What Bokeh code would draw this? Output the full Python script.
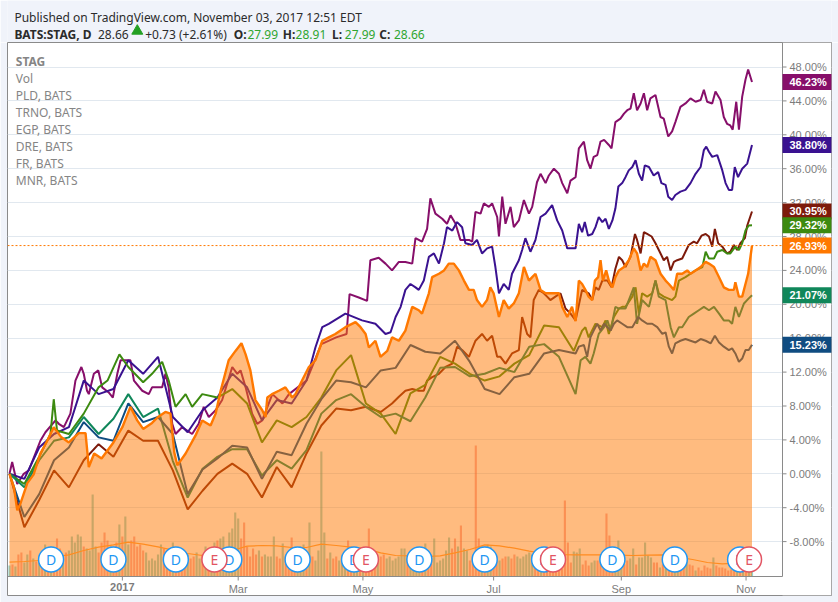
from bokeh.plotting import figure
from bokeh.models import Range1d, FixedTicker, PrintfTickFormatter, Span, Label
from bokeh.layouts import column
from bokeh.embed import file_html
from bokeh.resources import INLINE
from bokeh.core.properties import value

# ---------------- data: (bar index since 2016-11-07, % change) ----------------
stag_pts = [(0, 0), (1.5, -1.6), (2.6, -4.3), (3.7, -3.5), (6, -1.1), (8.1, -0.1), (10.4, 2.4),
            (12.7, 3.9), (14.9, 5.5), (17.5, 4.3), (20, 3.7), (23.3, 4.8), (25.6, 4.8), (26.7, 0.8),
            (28.5, 2.4), (31, 1.8), (35, 3.7), (38, 5.5), (40.7, 7.9), (43, 6.3), (45, 5.3), (48, 6.0),
            (50, 6.7), (52.5, 7.3), (54.2, 7.1), (55.5, 2.5), (56.5, 1.0), (59.3, 2.4), (62.6, 4.5),
            (64.9, 6.3), (67.7, 5.7), (69.4, 7.1), (71.1, 9.8), (73.8, 13.4), (76.1, 14.5),
            (78.1, 15.4), (79.5, 14.1), (81.1, 12.2), (82.8, 8.7), (85.1, 7.5), (86.2, 6.7),
            (86.8, 9.0), (88.4, 9.4), (90.7, 9.8), (92.9, 10.2), (95.2, 9.0), (96.3, 9.4),
            (98.5, 11.0), (100.8, 12.6), (103.0, 13.4), (105.3, 15.7), (107.5, 16.1), (109.7, 16.5),
            (113.1, 17.3), (116.5, 17.9), (118.2, 17.3), (119.9, 16.5), (121.0, 14.9), (123.2, 15.7),
            (124.9, 13.8), (127.2, 14.5), (128.8, 16.1), (131.1, 15.7), (133.3, 16.9), (135.6, 19.7),
            (137.8, 19.3), (138.9, 18.9), (141.2, 21.3), (142.3, 23.2), (144.6, 23.6), (146.3, 24.0),
            (147.9, 24.8), (149.6, 24.8), (151.3, 24.0), (153.0, 22.8), (154.7, 21.7), (156.3, 21.7),
            (157.4, 20.5), (159.1, 19.7), (160.8, 20.5), (161.9, 22.0), (163.0, 21.3), (164.8, 18.5),
            (166.4, 20.5), (168.1, 19.5), (169.8, 20.1), (171.5, 21.3), (173.2, 24.4), (174.9, 22.8),
            (176.0, 23.2), (177.1, 23.6), (178.8, 21.7), (180.5, 21.3), (182.7, 21.3), (185.0, 21.3),
            (186.1, 19.7), (187.8, 18.5), (189.4, 19.7), (190.6, 18.0), (191.7, 22.8), (192.8, 22.4),
            (193.9, 21.7), (195.0, 20.9), (196.2, 20.5), (197.1, 22.8), (198.2, 23.2), (199.0, 25.2),
            (199.8, 22.8), (200.9, 24.0), (201.8, 22.8), (203.0, 22.0), (204.0, 23.2), (205.2, 24.0),
            (206.9, 24.4), (208.5, 25.2), (210.2, 26.6), (211.3, 26.0), (212.5, 24.0), (213.6, 24.8),
            (214.7, 24.4), (215.8, 25.6), (217.5, 25.2), (219.2, 23.6), (220.9, 22.8), (222.0, 22.4),
            (223.7, 21.7), (224.8, 23.6), (226.5, 23.6), (228.2, 24.0), (229.3, 23.6), (231.0, 24.0),
            (232.7, 24.4), (234.4, 25.0), (235.5, 24.8), (237.2, 24.4), (238.9, 23.2), (240.5, 22.0),
            (242.2, 21.7), (243.9, 21.7), (244.4, 22.6), (245.6, 20.9), (246.7, 20.9), (247.8, 22.4),
            (248.7, 23.6), (250, 26.93)]

pld_pts = [(0, 0), (0.9, 1.4), (2.6, -1.2), (4.8, 0), (6.5, 0.4), (10.4, 3.9), (12.1, 4.9),
           (15.5, 6.3), (16.6, 5.9), (18.3, 5.5), (20.5, 7.1), (22.2, 11.0), (24.2, 12.6), (25.0, 11.8),
           (26.1, 9.8), (26.7, 9.4), (28.4, 11.8), (29.9, 12.2), (31.2, 10.2), (33.4, 9.6), (34.8, 9.0),
           (36.3, 11.8), (37.4, 13.4), (40.7, 13.4), (41.9, 11.0), (44.7, 9.8), (46.9, 9.4), (48.0, 10.2),
           (51.4, 10.2), (52.5, 11.8), (53.6, 10.2), (54.8, 5.9), (55.9, 4.7), (58.1, 5.5), (61.5, 4.7),
           (63.7, 5.9), (65.4, 7.9), (67.1, 6.7), (69.4, 7.5), (71.6, 8.7), (75.0, 12.6), (76.7, 11.8),
           (77.8, 12.2), (79.5, 10.2), (81.7, 7.1), (83.4, 5.9), (85.1, 6.3), (88.5, 9.4), (91.9, 8.3),
           (94.1, 9.4), (100, 11.0), (105, 15.3), (110, 16.1), (113.5, 16.5), (114.5, 21.2),
           (117.6, 20.8), (120.4, 20.4), (121.5, 25.2), (124.3, 25.5), (126.6, 24.8), (128.8, 24.0),
           (131.1, 25.0), (133.3, 25.0), (135.6, 24.8), (136.7, 27.8), (138.9, 27.4), (140.6, 28.9),
           (141.7, 32.5), (143.4, 30.7), (145.7, 30.1), (147.3, 29.5), (148.5, 30.5), (150.2, 29.5),
           (151.8, 27.6), (154.7, 27.6), (155.8, 27.4), (156.9, 30.9), (158.6, 30.7), (159.7, 31.9),
           (161.4, 31.5), (162.5, 31.9), (164.2, 30.3), (164.8, 28.0), (165.9, 32.7), (167.0, 29.5),
           (168.7, 31.5), (169.8, 29.1), (171.5, 29.9), (173.2, 32.3), (174.9, 30.7), (176.0, 31.5),
           (177.6, 34.4), (178.8, 35.4), (180.5, 34.3), (181.6, 35.2), (183.3, 36.0), (185.0, 35.4),
           (186.1, 34.3), (187.8, 33.1), (188.9, 34.6), (190.6, 35.0), (191.7, 38.4), (193.4, 39.2),
           (194.5, 37.0), (195.6, 36.0), (196.7, 37.4), (197.9, 37.6), (199.0, 39.2), (200.2, 39.4),
           (201.8, 38.8), (202.7, 38.4), (204.0, 41.5), (205.7, 41.9), (206.9, 42.5), (208.0, 42.9),
           (209.1, 43.1), (210.2, 44.9), (211.3, 42.9), (212.5, 43.7), (213.6, 44.9), (214.7, 42.9),
           (215.8, 44.3), (217.5, 44.7), (219.2, 42.1), (220.3, 41.9), (221.8, 39.8), (223.1, 40.4),
           (224.2, 41.5), (225.9, 43.3), (227.6, 43.7), (229.3, 44.3), (231.0, 43.9), (232.7, 44.1),
           (233.8, 45.3), (234.9, 43.9), (236.6, 43.7), (237.7, 45.1), (239.4, 44.1), (240.5, 42.1),
           (241.6, 41.3), (242.7, 41.1), (243.5, 40.6), (244.7, 43.9), (245.6, 40.6), (246.7, 44.5),
           (247.8, 46.5), (248.7, 47.7), (250, 46.23)]

trno_pts = [(0, 0), (5, -0.6), (10, 3.1), (15, 4.7), (20, 5.5), (25, 11.0), (30, 9.4), (35, 10.0),
            (40, 13.4), (45, 11.8), (50, 13.8), (55, 6.7), (60, 4.9), (65, 7.5), (70, 9.0), (75, 11.8),
            (80, 10.2), (85, 6.3), (90, 8.7), (95, 8.3), (100, 11.0), (103, 14.9), (105.3, 17.3),
            (107.5, 17.7), (113.1, 18.9), (118.7, 18.1), (123.2, 17.7), (126.6, 16.5), (128.3, 16.7),
            (130.0, 18.5), (131.7, 19.7), (133.3, 21.7), (135.0, 22.4), (136.7, 22.0), (137.8, 21.7),
            (139.5, 22.8), (141.2, 25.6), (142.9, 26.0), (144.6, 24.8), (146.3, 27.2), (147.3, 29.1),
            (149.1, 28.7), (150.7, 29.7), (152.4, 29.1), (153.5, 27.2), (155.8, 27.0), (157.4, 27.6),
            (159.1, 26.0), (160.8, 26.6), (162.5, 26.8), (163.6, 24.4), (164.8, 21.3), (166.4, 22.4),
            (168.1, 21.7), (169.2, 23.6), (171.5, 25.2), (172.6, 26.4), (173.7, 27.8), (175.4, 26.2),
            (177.1, 27.6), (178.8, 30.3), (180.5, 30.7), (182.7, 31.7), (184.4, 29.9), (186.1, 28.7),
            (187.8, 26.6), (189.4, 26.6), (190.6, 26.6), (191.7, 29.5), (192.8, 28.5), (193.7, 29.7),
            (194.8, 28.1), (196.2, 28.3), (197.3, 29.1), (198.4, 30.3), (199.6, 29.7), (200.7, 30.1),
            (201.8, 28.9), (203.0, 29.9), (204.0, 31.3), (205.0, 33.9), (206.3, 34.3), (207.4, 35.0),
            (208.5, 35.8), (209.7, 36.2), (210.8, 37.0), (211.9, 35.4), (213.0, 34.6), (213.9, 36.4),
            (215.3, 36.2), (216.9, 35.2), (218.4, 35.6), (219.5, 34.3), (220.9, 34.1), (221.8, 32.7),
            (223.1, 32.3), (224.2, 32.9), (225.9, 33.3), (227.6, 33.5), (229.3, 34.3), (231.0, 35.4),
            (232.7, 36.2), (233.8, 38.2), (234.6, 38.6), (235.5, 38.0), (236.6, 37.4), (238.3, 37.6),
            (240.0, 35.8), (241.1, 34.3), (242.2, 33.5), (243.3, 33.5), (244.2, 36.2), (245.3, 35.0),
            (246.7, 36.0), (248.4, 36.6), (250, 38.80)]

egp_pts = [(0, 0), (5, -6.3), (10, -3.1), (15, 0.4), (20, -1.6), (25, 1.6), (30, 3.5), (35, 2.0),
           (40, 5.1), (45, 3.9), (50, 3.9), (55, 0.4), (60, -4.2), (65, -2.0), (70, 0.0), (75, 1.2),
           (80, 0.0), (85, -2.8), (90, 0.8), (95, -1.6), (100, 2.4), (105, 5.7), (110, 7.7), (115, 7.5),
           (120, 7.9), (125, 7.3), (128.8, 8.3), (131.1, 9.1), (133.3, 9.8), (135.6, 10.0),
           (137.8, 9.8), (139.5, 9.8), (140.6, 11.0), (142.3, 11.4), (144.6, 11.8), (146.8, 12.6),
           (149.1, 13.0), (150.7, 15.0), (152.4, 14.6), (154.7, 13.8), (156.9, 15.7), (159.1, 16.5),
           (160.8, 15.7), (162.5, 16.3), (164.2, 13.8), (165.3, 13.8), (167.0, 13.0), (169.2, 14.2),
           (171.5, 14.6), (172.6, 18.5), (174.3, 16.5), (175.4, 16.1), (176.5, 20.5), (178.2, 21.7),
           (179.9, 21.3), (181.0, 20.9), (182.1, 20.5), (183.8, 20.9), (185.5, 21.3), (187.2, 19.5),
           (188.9, 18.9), (190.6, 18.1), (192.8, 21.7), (195.0, 21.3), (196.2, 20.5), (197.3, 22.0),
           (198.4, 21.7), (199.6, 22.8), (201.3, 22.8), (202.7, 22.0), (204.0, 24.2), (205.2, 25.6),
           (206.3, 25.2), (207.4, 24.4), (209.1, 25.6), (210.6, 28.3), (211.3, 27.6), (212.5, 26.0),
           (213.6, 28.5), (214.7, 28.3), (216.2, 28.0), (217.5, 27.2), (219.2, 26.0), (220.3, 25.2),
           (221.4, 25.6), (222.6, 24.0), (223.7, 25.0), (224.8, 25.2), (226.5, 25.4), (227.6, 26.2),
           (228.7, 27.0), (230.4, 27.4), (231.5, 27.2), (233.0, 28.1), (234.4, 28.3), (235.5, 28.0),
           (236.6, 26.8), (237.5, 28.9), (238.6, 27.2), (240.0, 26.8), (241.6, 26.0), (242.7, 26.2),
           (243.9, 27.0), (245.0, 26.4), (246.1, 27.2), (247.6, 27.8), (248.4, 29.3), (250, 30.95)]

dre_pts = [(0, 0), (5, -1.2), (10, 2.0), (13.8, 4.7), (14.9, 8.8), (16, 5.1), (20, 4.7), (25, 7.1),
           (30, 10.2), (33, 11.0), (37, 14.1), (40, 12.6), (45, 10.8), (48, 11.8), (51.4, 13.2),
           (53.6, 11.0), (55.9, 7.9), (59.3, 9.4), (61.5, 7.9), (64.9, 9.4), (70, 9.0), (75, 10.0),
           (80, 8.3), (85, 3.7), (90, 6.3), (95, 5.5), (100, 6.7), (105, 9.0), (110, 12.2),
           (115, 14.0), (120, 8.3), (125, 7.1), (130, 4.7), (135, 9.5), (140, 10.5), (145, 13.8),
           (150, 13.0), (155, 11.8), (160, 11.0), (165, 11.5), (170, 13.0), (175, 14.0), (180, 17.5),
           (185, 17.3), (190, 14.5), (192.8, 16.9), (193.9, 17.3), (195.0, 16.1), (197.3, 17.7),
           (199.6, 17.3), (200.7, 18.1), (201.8, 16.5), (203.5, 18.5), (205.2, 19.5), (206.3, 19.7),
           (207.4, 19.7), (209.7, 20.9), (210.8, 22.0), (211.9, 18.9), (213.0, 21.3), (214.7, 20.9),
           (216.4, 21.3), (217.5, 22.8), (218.6, 21.3), (220.3, 20.9), (223.1, 20.5), (224.2, 20.9),
           (225.4, 22.8), (227.6, 23.2), (229.3, 23.6), (231.0, 24.0), (233.3, 24.4), (234.4, 26.2),
           (235.5, 25.4), (237.2, 25.4), (238.3, 26.2), (240.0, 26.4), (241.6, 26.0), (242.7, 26.0),
           (244.4, 26.8), (245.6, 26.4), (246.7, 27.2), (247.8, 28.7), (248.9, 29.3), (250, 29.32)]

fr_pts = [(0, 0), (5, -1.6), (10, 1.6), (15, 3.9), (20, 4.3), (25, 6.7), (30, 4.7), (35, 6.5),
          (40, 9.4), (45, 6.7), (50, 7.7), (55, 1.5), (60, -2.8), (65, 0.6), (70, 2.0), (75, 2.9),
          (80, 2.9), (85, -0.2), (90, 1.6), (95, 0.6), (100, 2.8), (105, 7.1), (110, 8.7), (115, 9.4),
          (120, 7.9), (125, 6.7), (130, 7.1), (135, 6.2), (140, 9.0), (145, 12.5), (150, 12.6),
          (155, 11.5), (160, 11.8), (165, 12.5), (170, 12.0), (175, 15.0), (180, 15.3), (185, 13.8),
          (190.6, 9.4), (192.3, 13.4), (193.9, 13.8), (195.6, 13.0), (196.7, 14.2), (198.4, 16.5),
          (200.2, 17.3), (201.3, 18.1), (202.4, 16.9), (204.0, 19.7), (205.2, 19.5), (207.4, 19.5),
          (210.2, 22.0), (211.3, 17.7), (213.0, 20.5), (215.3, 19.7), (217.5, 22.8), (218.6, 20.9),
          (220.9, 20.5), (222.6, 17.3), (223.7, 16.1), (225.4, 17.3), (226.5, 17.3), (228.7, 18.5),
          (230.4, 18.9), (232.1, 19.3), (233.8, 19.7), (235.5, 19.3), (237.2, 19.7), (238.9, 18.9),
          (240.5, 18.1), (242.2, 18.1), (243.3, 17.7), (244.4, 19.7), (245.6, 18.5), (247.3, 20.1),
          (248.9, 20.7), (250, 21.07)]

mnr_pts = [(0, 0), (5, -5.1), (10, -2.4), (15, 1.6), (20, 3.1), (25, 6.1), (30, 4.3), (35, 3.9),
           (40, 8.3), (45, 6.1), (50, 6.7), (55, 4.7), (60, -2.4), (65, 0.5), (70, 1.8), (75, 3.3),
           (80, 3.1), (85, -0.6), (90, 2.6), (95, 2.2), (100, 5.9), (105, 8.8), (110, 11.0),
           (115, 10.8), (120, 10.2), (125, 12.2), (130, 12.5), (135, 15.2), (140, 14.4), (145, 14.2),
           (150, 15.7), (155, 13.2), (160, 10.0), (165, 9.4), (170, 11.4), (175, 11.8), (180, 14.2),
           (185, 14.6), (190.6, 14.2), (191.7, 15.0), (193.4, 15.2), (194.5, 13.8), (195.6, 16.1),
           (196.7, 16.9), (197.9, 17.7), (199.0, 16.9), (200.2, 17.7), (201.3, 17.3), (202.4, 16.9),
           (203.5, 17.7), (204.6, 18.1), (206.3, 17.7), (208.0, 17.3), (209.7, 17.3), (211.7, 18.5),
           (213.0, 18.1), (214.7, 17.7), (216.4, 17.7), (218.1, 17.3), (219.8, 16.5), (220.9, 16.7),
           (222.0, 15.0), (223.1, 14.2), (224.2, 15.4), (225.9, 15.7), (227.6, 15.9), (229.3, 15.7),
           (231.0, 15.5), (232.7, 15.9), (234.4, 15.7), (236.1, 15.4), (237.5, 16.3), (238.9, 15.5),
           (240.5, 15.0), (242.2, 14.6), (243.3, 14.8), (244.4, 14.2), (245.6, 13.2), (246.7, 13.6),
           (247.8, 14.6), (248.9, 14.6), (250, 15.23)]

# STAG daily volume (units of ~25k shares), one per bar, and up/down flag
volume = [11, 12, 10, 22, 24, 14, 22, 26, 18, 15,
          20, 12, 32, 26, 30, 22, 38, 28, 20, 24,
          26, 40, 34, 42, 40, 30, 28, 26, 82, 30,
          24, 34, 44, 36, 30, 22, 34, 52, 40, 60,
          32, 36, 40, 30, 32, 26, 24, 16, 18, 16,
          22, 32, 28, 26, 22, 34, 24, 28, 20, 16,
          22, 18, 20, 24, 18, 22, 30, 26, 22, 34,
          36, 38, 40, 26, 44, 48, 64, 58, 38, 54,
          30, 20, 28, 22, 26, 20, 22, 20, 20, 40,
          20, 18, 33, 20, 22, 39, 26, 28, 30, 32,
          22, 54, 20, 16, 26, 125, 44, 18, 24, 18,
          20, 16, 18, 20, 36, 22, 18, 20, 16, 26,
          18, 48, 20, 18, 16, 20, 22, 18, 20, 16,
          18, 20, 28, 28, 18, 16, 14, 18, 16, 20,
          33, 16, 18, 38, 14, 16, 18, 26, 39, 28,
          38, 30, 51, 28, 26, 16, 20, 131, 38, 30,
          30, 32, 30, 18, 20, 16, 18, 20, 20, 18,
          22, 20, 18, 20, 22, 24, 22, 14, 12, 14,
          16, 18, 14, 16, 14, 12, 8, 76, 34, 14,
          25, 24, 28, 12, 16, 11, 14, 16, 16, 14,
          12, 63, 41, 18, 21, 36, 11, 12, 16, 18,
          28, 12, 19, 19, 34, 21, 19, 14, 14, 9,
          12, 10, 11, 12, 14, 13, 11, 11, 20, 12,
          11, 6, 9, 6, 11, 9, 8, 19, 11, 9,
          9, 8, 6, 7, 6, 8, 7, 8, 7, 9, 10]
direction = "".join([
    "ududduudud", "udududddud", "uuuuuduuuu", "dddduddudu", "uddddduuuu",
    "uudddudddd", "udduududuu", "duuuuuuudd", "dddduduuuu", "ddudddduuu",
    "duduuuudud", "duuudduudu", "ddddudduuu", "uuuuduuuud", "udduuuuuud",
    "duduuddddu", "duudduddud", "duuuuuuddu", "dddddddddd", "uuuddduudd",
    "dddduuuddu", "uduuuuuddu", "dudduuddud", "dudddddudd", "dddddududuu"])
ma_idx = list(range(0, 250, 5)) + [248, 250]
vol_ma = [14.3, 15, 16, 19.3, 21.6, 26, 29.3, 31.6, 34.3, 32.3, 29.6, 26.3, 23, 21, 21.6, 26,
          30.3, 31, 30.6, 29, 29, 32.3, 31, 29.3, 27.6, 23.6, 21, 20.6, 20, 20.6, 23.6, 27,
          31.6, 30.6, 28.3, 25.3, 23, 22, 21.6, 21.6, 21.6, 21.3, 21, 21.3, 21.6, 19.3, 17,
          14, 12.6, 13.3, 13.3, 13.3]

dividend_idx = [14, 35, 56, 74, 97, 116, 138, 160, 180, 203, 224, 246]
earnings_idx = [69, 120, 183, 249]

tick_idx = [38, 77, 119, 163, 206, 248]
tick_labels = ["2017", "Mar", "May", "Jul", "Sep", "Nov"]
y_ticks = list(range(-8, 49, 4))

names = ["STAG", "Vol", "PLD, BATS", "TRNO, BATS", "EGP, BATS", "DRE, BATS", "FR, BATS", "MNR, BATS"]
peers = [("PLD", pld_pts, "#870f6a"), ("TRNO", trno_pts, "#3a1290"), ("EGP", egp_pts, "#7d1a0b"),
         ("DRE", dre_pts, "#3c8a10"), ("FR", fr_pts, "#10875a"), ("MNR", mnr_pts, "#0f4c81")]
STAG_COLOR = "#ff7800"

# ---------------- layout constants (page pixels) ----------------
BG = "#f0f3fa"
PAGE_W, PAGE_H = 838, 602
HEADER_H = 42
MAIN_H = PAGE_H - HEADER_H
BOX_L, BOX_R, BOX_T, BOX_B = 7, 831, 42, 595      # whole chart box (frame)
PLOT_R, PLOT_B = 782, 576                          # price pane edges
PX_PER_BAR = 2.97
BAR0_PX = 9
ZERO_PX = 473.3
PX_PER_PCT = 8.475

X0 = -(BAR0_PX - BOX_L) / PX_PER_BAR
X1 = X0 + (BOX_R - BOX_L) / PX_PER_BAR
Y1 = (ZERO_PX - BOX_T) / PX_PER_PCT
Y0 = (ZERO_PX - BOX_B) / PX_PER_PCT

def px2x(px):
    return X0 + (px - BOX_L) / PX_PER_BAR

def px2y(py):
    return Y1 - (py - BOX_T) / PX_PER_PCT

AREA_BOTTOM = px2y(PLOT_B)
AXIS_FONT = "Liberation Sans"
TEXT_FONT = "Noto Sans"
AXIS_GREY = "#8a8a8a"
LABEL_GREY = "#7c7c7c"

def split(pts):
    return [a for a, _ in pts], [b for _, b in pts]

# ---------------- header ----------------
h = figure(width=PAGE_W, height=HEADER_H, x_range=Range1d(0, PAGE_W), y_range=Range1d(0, HEADER_H),
           x_axis_type=None, y_axis_type=None, min_border=0, toolbar_location=None,
           output_backend="svg", background_fill_color=BG, border_fill_color=BG,
           outline_line_color=None)
h.grid.visible = False
DARK = "#2b2b2b"
GREEN = "#2fa52f"
h.text(x=[7], y=[HEADER_H - 17], text=["Published on TradingView.com, November 03, 2017 12:51 EDT"],
       text_font=value(TEXT_FONT), text_font_size="12px", text_color=DARK,
       text_baseline="alphabetic")
pieces = [(7, "BATS:STAG, D", DARK, "bold"), (92, "28.66", DARK, "normal"),
          (140, "+0.73 (+2.61%)", DARK, "normal"),
          (230, "O:", DARK, "bold"), (244, "27.99", GREEN, "normal"),
          (280, "H:", DARK, "bold"), (293, "28.91", GREEN, "normal"),
          (330, "L:", DARK, "bold"), (343, "27.99", GREEN, "normal"),
          (378, "C:", DARK, "bold"), (393, "28.66", GREEN, "normal")]
for px, txt, col, style in pieces:
    h.text(x=[px], y=[HEADER_H - 34.3], text=[txt], text_font=value(TEXT_FONT),
           text_font_size="12px", text_color=col, text_font_style=style,
           text_baseline="alphabetic")
h.scatter(x=[132], y=[HEADER_H - 30.5], marker="triangle", size=11, fill_color="#23a023",
          line_color="#23a023")

# ---------------- main chart ----------------
p_main = figure(width=PAGE_W, height=MAIN_H, x_range=Range1d(X0, X1), y_range=Range1d(Y0, Y1),
                y_axis_location="right", toolbar_location=None, output_backend="svg",
                min_border_left=BOX_L, min_border_top=0, min_border_right=PAGE_W - BOX_R,
                min_border_bottom=PAGE_H - BOX_B, background_fill_color="white",
                border_fill_color=BG, outline_line_color=AXIS_GREY)
p_main.extra_y_ranges = {"vol": Range1d(-(BOX_B - PLOT_B), BOX_B - BOX_T - (BOX_B - PLOT_B))}

ax = p_main.yaxis[0]
ax.ticker = FixedTicker(ticks=y_ticks)
ax.formatter = PrintfTickFormatter(format="%.2f%%")
ax.major_label_text_font = AXIS_FONT
ax.major_label_text_font_size = "11px"
ax.major_label_text_color = LABEL_GREY
ax.major_tick_out = 0
ax.major_tick_in = 0
ax.minor_tick_line_color = None
ax.major_tick_line_color = None
ax.axis_line_color = None
ax.major_label_standoff = (PLOT_R + 7) - BOX_R

xa = p_main.xaxis[0]
xa.ticker = FixedTicker(ticks=tick_idx)
xa.major_label_overrides = {t: ("" if lab == "2017" else lab) for t, lab in zip(tick_idx, tick_labels)}
xa.major_label_text_font = AXIS_FONT
xa.major_label_text_font_size = "11px"
xa.major_label_text_color = LABEL_GREY
xa.major_tick_out = 0
xa.major_tick_in = 0
xa.minor_tick_line_color = None
xa.major_tick_line_color = None
xa.axis_line_color = None
xa.major_label_standoff = (PLOT_B + 6) - BOX_B

p_main.xgrid.visible = False
p_main.ygrid.ticker = FixedTicker(ticks=y_ticks)
p_main.ygrid.grid_line_color = "#e1e8ef"

# white price-scale strip (hides grid there)
p_main.quad(left=[px2x(PLOT_R)], right=[X1], bottom=[Y0], top=[Y1], fill_color="white",
            line_color=None)

# volume
bars = list(range(len(volume)))
dir_full = (direction + "u" * len(volume))[:len(volume)]
vcolors = ["#26a69a" if d == "u" else "#ef5350" for d in dir_full]
p_main.vbar(x=bars, top=volume, bottom=0, width=0.72, y_range_name="vol",
            fill_color=vcolors, fill_alpha=0.5, line_color=None)
p_main.line(ma_idx, vol_ma, y_range_name="vol", line_color="#ffa040", line_width=1.2)

# peer lines
for name, pts, col in peers:
    xs, ys = split(pts)
    p_main.line(xs, ys, line_color=col, line_width=2)

# STAG area + line
sx, sy = split(stag_pts)
p_main.varea(x=sx, y1=AREA_BOTTOM, y2=sy, fill_color=STAG_COLOR, fill_alpha=0.5)
p_main.line(sx, sy, line_color=STAG_COLOR, line_width=2.4)

# pane edges and tick marks
xr = px2x(PLOT_R)
p_main.segment(x0=[xr, X0], y0=[Y1, AREA_BOTTOM], x1=[xr, xr], y1=[AREA_BOTTOM, AREA_BOTTOM],
               line_color=AXIS_GREY, line_width=1)
p_main.segment(x0=[xr] * len(y_ticks), y0=y_ticks, x1=[px2x(PLOT_R + 4)] * len(y_ticks),
               y1=y_ticks, line_color=AXIS_GREY, line_width=1)
p_main.segment(x0=tick_idx, y0=[AREA_BOTTOM] * len(tick_idx), x1=tick_idx,
               y1=[px2y(PLOT_B + 4)] * len(tick_idx), line_color=AXIS_GREY, line_width=1)

p_main.add_layout(Span(location=sy[-1], dimension="width", line_color=STAG_COLOR,
                       line_dash="2 2", line_width=1))

# legend texts
leg_x = px2x(15.3)
for i, nm in enumerate(names):
    p_main.text(x=[leg_x], y=[px2y(60.7 + 17 * i)], text=[nm], text_font=value(TEXT_FONT),
                text_font_size="12px", text_color="#858585", text_baseline="middle",
                text_font_style="bold" if i == 0 else "normal")

# event markers
MARK_Y = PLOT_B - 559
for idxs, letter, col in [(dividend_idx, "D", "#2196f3"), (earnings_idx, "E", "#e25563")]:
    p_main.scatter(x=idxs, y=[MARK_Y] * len(idxs), y_range_name="vol", marker="circle",
                   size=25, fill_color="white", line_color=col, line_width=1.5)
    p_main.text(x=idxs, y=[MARK_Y] * len(idxs), text=[letter] * len(idxs), y_range_name="vol",
                text_font=value(TEXT_FONT), text_font_size="14px", text_color=col,
                text_align="center", text_baseline="middle")

# last value tags on the price scale
tags = [(pts[-1][1], c) for _, pts, c in peers] + [(sy[-1], STAG_COLOR)]
for val, col in tags:
    p_main.add_layout(Label(x=xr, y=val, text="%.2f%%" % val, x_offset=0,
                            text_font=AXIS_FONT, text_font_size="11px", text_font_style="bold",
                            text_color="white", text_baseline="middle", text_align="left",
                            background_fill_color=col,
                            padding=dict(left=7, right=5, top=2, bottom=2)))

# bold year label on the time axis
p_main.add_layout(Label(x=tick_idx[0], y=px2y(PLOT_B + 6), text=tick_labels[0], text_font=AXIS_FONT,
                        text_font_size="11px", text_font_style="bold", text_color=LABEL_GREY,
                        text_align="center", text_baseline="top"))

p = column(h, p_main, spacing=0)
open("out.html", "w").write(file_html(p, INLINE))
